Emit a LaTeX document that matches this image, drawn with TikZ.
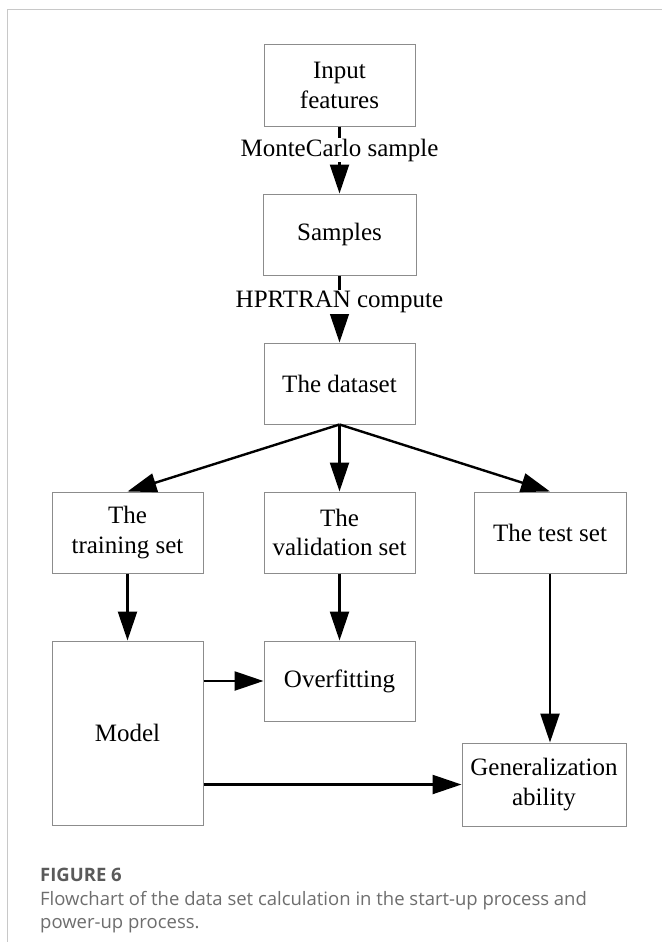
\documentclass[tikz,border=0pt]{standalone}
\usepackage{fontspec}
\setmainfont{Liberation Serif}
\setsansfont{Open Sans}
\usetikzlibrary{arrows.meta,calc}

\definecolor{boxline}{HTML}{8C8C8C}
\definecolor{framegray}{HTML}{C8C8C8}
\definecolor{capgray}{HTML}{6E6E6E}
\definecolor{capdark}{HTML}{5A5A5A}

\tikzset{
  stepbox/.style={draw=boxline, line width=1pt, rectangle, inner sep=0pt,
    align=center, font=\fontsize{25}{29.5}\selectfont},
  flow/.style={line width=2.4pt, -{Triangle[length=29pt,width=19pt]}},
  edgelabel/.style={fill=white, inner sep=1pt, font=\fontsize{25}{29.5}\selectfont},
  capline/.style={anchor=base west, inner sep=0pt, font=\sffamily\fontsize{18.5}{23}\selectfont, text=capgray}
}

\begin{document}
\begin{tikzpicture}[x=1pt,y=-1pt]
  \useasboundingbox (0,0) rectangle (662,942);
  \fill[white] (0,0) rectangle (662,942);

  % panel frame (top and left edges)
  \draw[framegray, line width=1pt] (7,942) -- (7,10) -- (662,10);

  % boxes
  \node[stepbox, minimum width=151pt, minimum height=81pt] (input) at (339.5,85.5) {Input\\features};
  \node[stepbox, minimum width=153pt, minimum height=81pt] (samples) at (339.5,234.5) {Samples};
  \node[stepbox, minimum width=151pt, minimum height=81pt] (dataset) at (339.5,383.5) {The dataset};
  \node[stepbox, minimum width=151pt, minimum height=81pt] (train) at (127.5,532.5) {The\\training set};
  \node[stepbox, minimum width=151pt, minimum height=81pt] (valid) at (339.5,532.5) {The\\validation set};
  \node[stepbox, minimum width=152pt, minimum height=81pt] (test) at (550,532.5) {The test set};
  \node[stepbox, minimum width=151pt, minimum height=184pt] (model) at (127.5,733) {Model};
  \node[stepbox, minimum width=151pt, minimum height=80pt] (overfit) at (339.5,681) {Overfitting};
  \node[stepbox, minimum width=164pt, minimum height=83pt] (gen) at (544,784.5) {Generalization\\ability};

  % labelled connectors
  \draw[flow] (input.south) -- (samples.north);
  \node[edgelabel] (mc) at (339.5,150) {MonteCarlo sample};
  \draw[flow] (samples.south) -- (dataset.north);
  \node[edgelabel] (hp) at (339.5,302) {HPRTRAN compute};

  % splitting the dataset
  \draw[flow] (dataset.south) -- (train.north);
  \draw[flow] (dataset.south) -- (valid.north);
  \draw[flow] (dataset.south) -- (test.north);

  % downstream connectors
  \draw[flow] (train.south) -- (model.north);
  \draw[flow] (valid.south) -- (overfit.north);
  \draw[flow] (test.south) -- (test.south |- gen.north);
  \draw[flow] (model.east |- overfit.west) -- (overfit.west);
  \draw[flow] (model.east |- gen.west) -- (gen.west);

  % caption
  \node[capline, font=\sffamily\bfseries\fontsize{18.5}{23}\selectfont, text=capdark] (figno) at (40,881) {FIGURE 6};
  \node[capline] (cap1) at (40,905) {Flowchart of the data set calculation in the start-up process and};
  \node[capline] (cap2) at (40,928) {power-up process.};
\end{tikzpicture}
\end{document}
